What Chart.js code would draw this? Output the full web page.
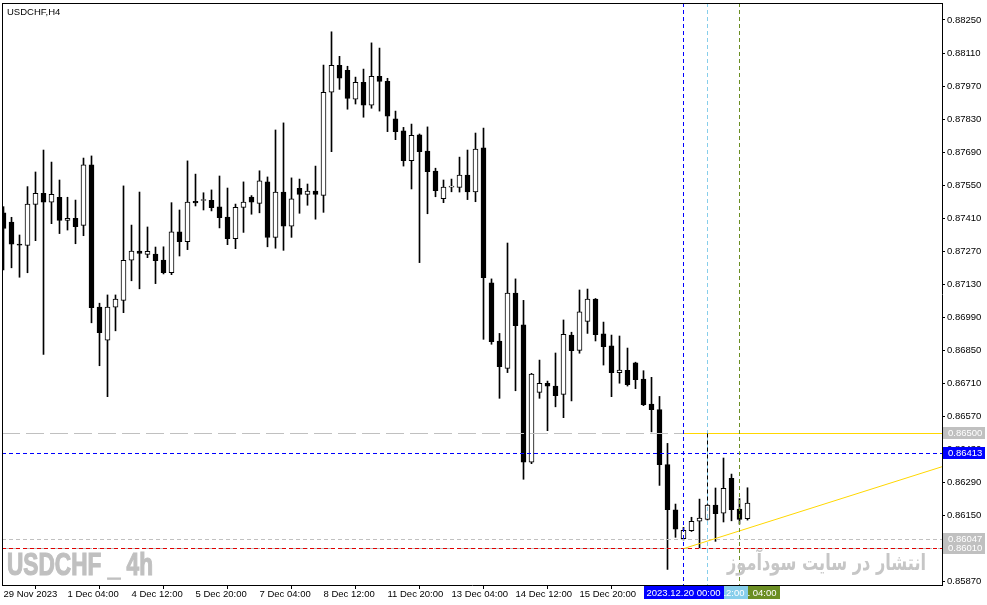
<!DOCTYPE html>
<html>
<head>
<meta charset="utf-8">
<title>USDCHF,H4</title>
<script src="https://cdn.jsdelivr.net/npm/chart.js@4.4.0/dist/chart.umd.min.js"></script>
<style>
  html, body { margin: 0; padding: 0; background: #fff; }
  #wrap { width: 987px; height: 605px; }
</style>
</head>
<body>
<div id="wrap"><canvas id="chart" width="987" height="605"></canvas></div>
<script>
// USDCHF H4 bars, 29 Nov 2023 20:00 .. 21 Dec 2023 08:00 (bar index 0..93)
const opens = [
  0.87433, 0.87394, 0.87299, 0.87295, 0.87469, 0.87516, 0.87478, 0.87499, 0.87401, 0.87410,
  0.87380, 0.87636, 0.87034, 0.86893, 0.87033, 0.87062, 0.87232, 0.87271, 0.87257, 0.87258,
  0.87233, 0.87179, 0.87352, 0.87311, 0.87482, 0.87485, 0.87486, 0.87458, 0.87415, 0.87323,
  0.87456, 0.87500, 0.87473, 0.87564, 0.87329, 0.87521, 0.87376, 0.87537, 0.87511, 0.87525,
  0.87507, 0.87944, 0.88058, 0.88037, 0.87915, 0.87986, 0.87889, 0.88011, 0.87990, 0.87831,
  0.87780, 0.87654, 0.87763, 0.87695, 0.87610, 0.87493, 0.87542, 0.87541, 0.87593, 0.87522,
  0.87708, 0.87136, 0.86890, 0.86774, 0.87093, 0.86958, 0.86376, 0.86672, 0.86711, 0.86699,
  0.86664, 0.86915, 0.86850, 0.86973, 0.87067, 0.86920, 0.86869, 0.86756, 0.86766, 0.86797,
  0.86728, 0.86623, 0.86599, 0.86366, 0.86175, 0.86052, 0.86086, 0.86126, 0.86134, 0.86195,
  0.86160, 0.86308, 0.86178, 0.86137
];
const highs = [
  0.87459, 0.87414, 0.87339, 0.87544, 0.87606, 0.87699, 0.87648, 0.87572, 0.87499, 0.87487,
  0.87665, 0.87674, 0.87050, 0.87085, 0.87085, 0.87547, 0.87381, 0.87521, 0.87373, 0.87288,
  0.87289, 0.87476, 0.87445, 0.87653, 0.87597, 0.87518, 0.87530, 0.87589, 0.87538, 0.87470,
  0.87564, 0.87506, 0.87611, 0.87585, 0.87784, 0.87814, 0.87581, 0.87576, 0.87555, 0.87631,
  0.88059, 0.88200, 0.88096, 0.88054, 0.88008, 0.88042, 0.88153, 0.88131, 0.88003, 0.87864,
  0.87795, 0.87809, 0.87767, 0.87797, 0.87622, 0.87572, 0.87576, 0.87669, 0.87699, 0.87771,
  0.87792, 0.87153, 0.86922, 0.87305, 0.87153, 0.87062, 0.86753, 0.86809, 0.86720, 0.86839,
  0.86979, 0.86927, 0.87106, 0.87110, 0.87070, 0.86970, 0.86915, 0.86911, 0.86860, 0.86800,
  0.86764, 0.86736, 0.86655, 0.86456, 0.86199, 0.86100, 0.86143, 0.86220, 0.86197, 0.86267,
  0.86394, 0.86326, 0.86222, 0.86268
];
const lows = [
  0.87191, 0.87200, 0.87160, 0.87179, 0.87315, 0.86833, 0.87387, 0.87345, 0.87360, 0.87302,
  0.87336, 0.86967, 0.86785, 0.86654, 0.86933, 0.87010, 0.87145, 0.87111, 0.87243, 0.87133,
  0.87174, 0.87171, 0.87250, 0.87277, 0.87462, 0.87445, 0.87441, 0.87369, 0.87298, 0.87281,
  0.87350, 0.87427, 0.87433, 0.87289, 0.87283, 0.87274, 0.87329, 0.87431, 0.87465, 0.87406,
  0.87435, 0.87692, 0.87956, 0.87872, 0.87894, 0.87838, 0.87876, 0.87864, 0.87777, 0.87743,
  0.87631, 0.87534, 0.87222, 0.87429, 0.87501, 0.87476, 0.87522, 0.87521, 0.87489, 0.87480,
  0.86897, 0.86876, 0.86647, 0.86756, 0.86679, 0.86304, 0.86370, 0.86647, 0.86510, 0.86611,
  0.86565, 0.86636, 0.86838, 0.86922, 0.86890, 0.86788, 0.86654, 0.86711, 0.86699, 0.86688,
  0.86616, 0.86505, 0.86278, 0.85922, 0.86058, 0.86047, 0.86083, 0.86010, 0.86131, 0.86041,
  0.86123, 0.86128, 0.86114, 0.86131
];
const closes = [
  0.87367, 0.87300, 0.87296, 0.87470, 0.87516, 0.87478, 0.87511, 0.87401, 0.87410, 0.87374,
  0.87636, 0.87031, 0.86925, 0.87034, 0.87067, 0.87232, 0.87271, 0.87261, 0.87270, 0.87230,
  0.87179, 0.87352, 0.87311, 0.87479, 0.87475, 0.87486, 0.87455, 0.87412, 0.87323, 0.87456,
  0.87478, 0.87478, 0.87568, 0.87329, 0.87521, 0.87376, 0.87492, 0.87511, 0.87525, 0.87511,
  0.87944, 0.88058, 0.88003, 0.87918, 0.87986, 0.87889, 0.88011, 0.87990, 0.87842, 0.87777,
  0.87654, 0.87761, 0.87692, 0.87607, 0.87527, 0.87542, 0.87543, 0.87593, 0.87522, 0.87703,
  0.87158, 0.86887, 0.86781, 0.87093, 0.86955, 0.86376, 0.86750, 0.86711, 0.86698, 0.86658,
  0.86918, 0.86849, 0.87013, 0.87067, 0.86917, 0.86866, 0.86756, 0.86767, 0.86705, 0.86726,
  0.86620, 0.86599, 0.86366, 0.86175, 0.86093, 0.86088, 0.86126, 0.86140, 0.86195, 0.86158,
  0.86266, 0.86175, 0.86134, 0.86203
];

// time scale labels, one every 8 bars
const xTickIdx = [0, 8, 16, 24, 32, 40, 48, 56, 64, 72, 80];
const xTickLabels = ['29 Nov 2023', '1 Dec 04:00', '4 Dec 12:00', '5 Dec 20:00', '7 Dec 04:00',
  '8 Dec 12:00', '11 Dec 20:00', '13 Dec 04:00', '14 Dec 12:00', '15 Dec 20:00', '19 Dec 04:00'];

// price scale labels
const yTicks = [0.85870, 0.86010, 0.86150, 0.86290, 0.86430, 0.86570, 0.86710, 0.86850, 0.86990,
  0.87130, 0.87270, 0.87410, 0.87550, 0.87690, 0.87830, 0.87970, 0.88110, 0.88250];

// drawn objects
const levelPrices = [0.86500, 0.86413, 0.86047, 0.86010];
const vLineIdx = [85, 88, 92];
const vLineLabels = ['2023.12.20 00:00', '2023.12.20 12:00', '2023.12.21 04:00'];
const trendStart = [85, 0.86010];
const trendEnd = [117.3, 0.86357];

const FONT = "'Liberation Sans', Arial, sans-serif";

const idx = opens.map((_, i) => i);
const bodyData = idx.map(i => ({ x: i, y: [opens[i], closes[i]] }));
const wickData = idx.map(i => ({ x: i, y: [lows[i], highs[i]] }));
const bodyFill = idx.map(i => closes[i] > opens[i] ? '#ffffff' : '#000000');

// objects, watermark and axis boxes
const overlay = {
  id: 'overlay',
  afterDatasetsDraw(chart) {
    const { ctx, chartArea: a, scales: { x, y } } = chart;
    const px = i => Math.floor(x.getPixelForValue(i)) + 0.5;
    const py = v => Math.floor(y.getPixelForValue(v)) + 0.5;

    ctx.save();
    ctx.beginPath();
    ctx.rect(a.left, a.top, a.right - a.left, a.bottom - a.top);
    ctx.clip();
    ctx.lineWidth = 1;

    function hline(v, color, dash, x0) {
      ctx.strokeStyle = color;
      ctx.setLineDash(dash);
      ctx.beginPath();
      ctx.moveTo(x0 === undefined ? a.left : x0, py(v));
      ctx.lineTo(a.right, py(v));
      ctx.stroke();
    }
    function vline(i, color, y0, y1) {
      ctx.strokeStyle = color;
      ctx.setLineDash([4, 3]);
      ctx.beginPath();
      ctx.moveTo(px(i), y0);
      ctx.lineTo(px(i), y1);
      ctx.stroke();
    }

    hline(levelPrices[0], '#c0c0c0', [18, 6]);
    hline(levelPrices[3], '#c0c0c0', [18, 6]);
    hline(levelPrices[2], '#c0c0c0', [4, 3]);
    hline(levelPrices[3], '#e00000', [4, 3]);
    hline(levelPrices[1], '#0000ff', [4, 3]);
    hline(levelPrices[0], '#ffd700', [], px(vLineIdx[0]));

    // trend line
    ctx.strokeStyle = '#ffd700';
    ctx.setLineDash([]);
    ctx.beginPath();
    ctx.moveTo(x.getPixelForValue(trendStart[0]), y.getPixelForValue(trendStart[1]));
    ctx.lineTo(x.getPixelForValue(trendEnd[0]), y.getPixelForValue(trendEnd[1]));
    ctx.stroke();

    vline(vLineIdx[2], '#6b8e23', a.top, a.bottom);
    vline(vLineIdx[1], '#87ceeb', a.top, a.bottom);
    vline(vLineIdx[0], '#0000ff', a.top, a.bottom);
    vline(vLineIdx[1], '#000000', py(levelPrices[0]), y.getPixelForValue(highs[vLineIdx[1]]));
    ctx.setLineDash([]);

    // watermarks
    ctx.fillStyle = '#c0c0c0';
    ctx.strokeStyle = '#c0c0c0';
    ctx.textBaseline = 'alphabetic';
    ctx.textAlign = 'left';
    ctx.font = "bold 31px 'Liberation Sans Narrow', " + FONT;
    const wm = 'USDCHF _ 4h';
    let w = ctx.measureText(wm).width;
    ctx.save();
    ctx.translate(7, 575);
    ctx.scale(146 / w, 1);
    ctx.lineWidth = 1.2;
    ctx.fillText(wm, 0, 0);
    ctx.strokeText(wm, 0, 0);
    ctx.restore();

    ctx.fillStyle = '#c6c6c6';
    ctx.font = "bold 22px 'DejaVu Sans', sans-serif";
    ctx.direction = 'rtl';
    const fa = 'انتشار در سایت سودآموز';
    w = ctx.measureText(fa).width;
    ctx.save();
    ctx.translate(727, 570);
    ctx.scale(199 / w, 1);
    ctx.fillText(fa, 0, 0);
    ctx.restore();
    ctx.direction = 'ltr';

    // symbol caption
    ctx.fillStyle = '#000';
    ctx.font = '9.5px ' + FONT;
    ctx.textBaseline = 'middle';
    ctx.fillText('USDCHF,H4', 7, 12);
    ctx.restore();
  },
  afterDraw(chart) {
    const { ctx, chartArea: a, scales: { x, y } } = chart;
    ctx.save();
    ctx.fillStyle = '#000';
    ctx.fillRect(a.left, a.top, 1, a.bottom - a.top);
    ctx.fillRect(a.left, a.top, a.right - a.left, 1);

    ctx.font = '9.5px ' + FONT;
    ctx.textBaseline = 'middle';

    function yBox(v, bg, fg) {
      const p = Math.floor(y.getPixelForValue(v));
      ctx.fillStyle = bg;
      ctx.fillRect(a.right + 1, p - 6, 42, 12);
      ctx.fillStyle = fg;
      ctx.textAlign = 'left';
      ctx.fillText(v.toFixed(5), a.right + 6, p + 0.5);
    }
    yBox(levelPrices[0], '#c0c0c0', '#ffffff');
    yBox(levelPrices[2], '#c0c0c0', '#ffffff');
    yBox(levelPrices[3], '#c0c0c0', '#ffffff');
    yBox(levelPrices[1], '#0000ff', '#ffffff');

    function xBox(k, bg) {
      const p = Math.floor(x.getPixelForValue(vLineIdx[k])) + 0.5;
      const tw = ctx.measureText(vLineLabels[k]).width + 6;
      ctx.fillStyle = bg;
      ctx.fillRect(Math.round(p - tw / 2), a.bottom + 1, Math.round(tw), 13);
      ctx.fillStyle = '#ffffff';
      ctx.textAlign = 'center';
      ctx.fillText(vLineLabels[k], p, a.bottom + 8);
    }
    xBox(2, '#6b8e23');
    xBox(1, '#87ceeb');
    xBox(0, '#0000ff');
    ctx.restore();
  }
};

new Chart(document.getElementById('chart'), {
  type: 'bar',
  data: {
    datasets: [
      {
        label: 'body', data: bodyData, order: 1, grouped: false,
        backgroundColor: bodyFill, borderColor: '#000000', borderWidth: 1,
        borderSkipped: false, barThickness: 5, minBarLength: 1
      },
      {
        label: 'wick', data: wickData, order: 2, grouped: false,
        backgroundColor: '#000000', borderWidth: 0, barThickness: 1
      }
    ]
  },
  options: {
    responsive: false,
    devicePixelRatio: 1,
    animation: false,
    events: [],
    layout: { padding: { left: 2, top: 3, right: 0, bottom: 0 } },
    plugins: { legend: { display: false }, tooltip: { enabled: false } },
    scales: {
      x: {
        type: 'linear',
        offset: false,
        min: -0.1875,
        max: 117.3125,
        afterBuildTicks: s => { s.ticks = xTickIdx.map(v => ({ value: v })); },
        afterFit: s => { s.height = 20; s.paddingLeft = 0; s.paddingRight = 0; },
        grid: { drawOnChartArea: false, drawTicks: true, tickLength: 4, color: '#000' },
        border: { display: true, color: '#000' },
        ticks: {
          autoSkip: false, maxRotation: 0, align: 'start', padding: 0, color: '#000',
          font: { family: FONT, size: 9.5 },
          callback: (v, i) => xTickLabels[i]
        }
      },
      y: {
        position: 'right',
        min: 0.85856,
        max: 0.88322,
        afterBuildTicks: s => { s.ticks = yTicks.map(v => ({ value: v })); },
        afterFit: s => { s.width = 45; s.paddingTop = 0; s.paddingBottom = 0; },
        grid: { drawOnChartArea: false, drawTicks: true, tickLength: 3, color: '#000' },
        border: { display: true, color: '#000' },
        ticks: {
          autoSkip: false, padding: 2, color: '#000',
          font: { family: FONT, size: 9.5 },
          callback: v => v.toFixed(5)
        }
      }
    }
  },
  plugins: [overlay]
});
</script>
</body>
</html>
